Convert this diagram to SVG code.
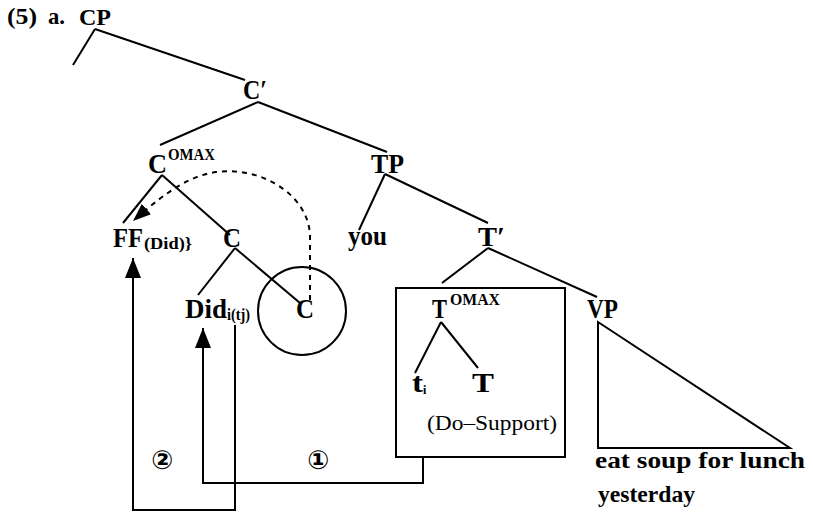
<svg xmlns="http://www.w3.org/2000/svg" width="813" height="512" viewBox="0 0 813 512">
<style>
text{font-family:"Liberation Serif","Times New Roman",serif;font-weight:bold;fill:#000}
.n{font-size:27px}
.s{font-size:16px}
.o{font-size:17px}
.l{font-size:24px}
.r{font-weight:normal;font-size:22px}
.c{font-family:"DejaVu Sans",sans-serif;font-size:26px;text-anchor:middle}
#edges line,#edges path,#edges polygon{stroke:#000;stroke-width:2;fill:none}
.dash{stroke-dasharray:5 5}
</style>
<defs>
<marker id="ah" markerUnits="userSpaceOnUse" viewBox="0 0 20 16" refX="20" refY="8" markerWidth="20" markerHeight="16" orient="auto">
<path d="M0,0 L20,8 L0,16 Z" fill="#000"/>
</marker>
<marker id="ahd" markerUnits="userSpaceOnUse" viewBox="0 0 18 14" refX="18" refY="7" markerWidth="18" markerHeight="14" orient="auto">
<path d="M0,0 L18,7 L0,14 Z" fill="#000"/>
</marker>
</defs>
<g id="title">
<text x="7" y="24" class="l" textLength="30" lengthAdjust="spacingAndGlyphs">(5)</text>
<text x="48" y="24" class="l" textLength="17" lengthAdjust="spacingAndGlyphs">a.</text>
</g>
<g id="CP"><text x="79" y="25" class="l" textLength="32" lengthAdjust="spacingAndGlyphs">CP</text></g>
<g id="Cbar"><text x="243" y="99" class="n" textLength="24" lengthAdjust="spacingAndGlyphs">C′</text></g>
<g id="COMAX"><text x="148" y="173" class="n" textLength="19" lengthAdjust="spacingAndGlyphs">C</text><text x="168" y="160" class="o" textLength="47" lengthAdjust="spacingAndGlyphs">OMAX</text></g>
<g id="TP"><text x="371" y="173" class="n" textLength="33" lengthAdjust="spacingAndGlyphs">TP</text></g>
<g id="FF"><text x="113" y="247" class="n" textLength="30" lengthAdjust="spacingAndGlyphs">FF</text><text x="144" y="249" class="s" textLength="48" lengthAdjust="spacingAndGlyphs">(Did)}</text></g>
<g id="C"><text x="223" y="247" class="n" textLength="18" lengthAdjust="spacingAndGlyphs">C</text></g>
<g id="you"><text x="348" y="245" class="n" textLength="39" lengthAdjust="spacingAndGlyphs">you</text></g>
<g id="Tbar"><text x="478" y="246" class="n" textLength="27" lengthAdjust="spacingAndGlyphs">T′</text></g>
<g id="Did"><text x="185" y="318" class="n" textLength="42" lengthAdjust="spacingAndGlyphs">Did</text><text x="227" y="320" class="s" textLength="23" lengthAdjust="spacingAndGlyphs">i(tj)</text></g>
<g id="Ccircle"><circle cx="302" cy="311" r="44" fill="none" stroke="#000" stroke-width="2"/><text x="296" y="318" class="n" textLength="18" lengthAdjust="spacingAndGlyphs">C</text></g>
<g id="box">
<rect x="396" y="288" width="169" height="169" fill="none" stroke="#000" stroke-width="2"/>
<text x="432" y="318" class="n" textLength="15" lengthAdjust="spacingAndGlyphs">T</text><text x="450" y="305" class="o" textLength="50" lengthAdjust="spacingAndGlyphs">OMAX</text>
<text x="412" y="392" class="n" textLength="11" lengthAdjust="spacingAndGlyphs">t</text><text x="423" y="394" font-size="12">i</text>
<text x="472" y="392" class="n" textLength="22" lengthAdjust="spacingAndGlyphs">T</text>
<text x="427" y="430" class="r" textLength="130" lengthAdjust="spacingAndGlyphs">(Do–Support)</text>
</g>
<g id="VP"><text x="587" y="318" class="n" textLength="31" lengthAdjust="spacingAndGlyphs">VP</text></g>
<g id="VPtext">
<text x="595" y="468" class="l" textLength="210" lengthAdjust="spacingAndGlyphs">eat soup for lunch</text>
<text x="598" y="502" class="l" textLength="97" lengthAdjust="spacingAndGlyphs">yesterday</text>
</g>
<g id="labels">
<text x="162" y="469" class="c">②</text>
<text x="318" y="469" class="c">①</text>
</g>
<g id="edges">
<line x1="95" y1="29" x2="73" y2="65"/>
<line x1="95" y1="29" x2="245" y2="80"/>
<line x1="258" y1="102" x2="160" y2="145"/>
<line x1="258" y1="102" x2="387" y2="152"/>
<line x1="162" y1="175" x2="123" y2="223"/>
<line x1="162" y1="175" x2="230" y2="235"/>
<line x1="385" y1="174" x2="359" y2="230"/>
<line x1="385" y1="174" x2="488" y2="223"/>
<line x1="235" y1="248" x2="198" y2="295"/>
<line x1="235" y1="248" x2="300" y2="303"/>
<line x1="488" y1="248" x2="442" y2="283"/>
<line x1="488" y1="248" x2="597" y2="297"/>
<line x1="441" y1="322" x2="415" y2="373"/>
<line x1="441" y1="322" x2="478" y2="368"/>
<polygon points="598,322 598,448 790,448"/>
<path class="dash" d="M310,300 L310,235 C308,195 262,166 216,172 C190,176 168,190 133,221" marker-end="url(#ahd)"/>
<path d="M423,457 V483 H203 V328" marker-end="url(#ah)"/>
<path d="M235,325 V510 H133 V258" marker-end="url(#ah)"/>
</g>
</svg>
